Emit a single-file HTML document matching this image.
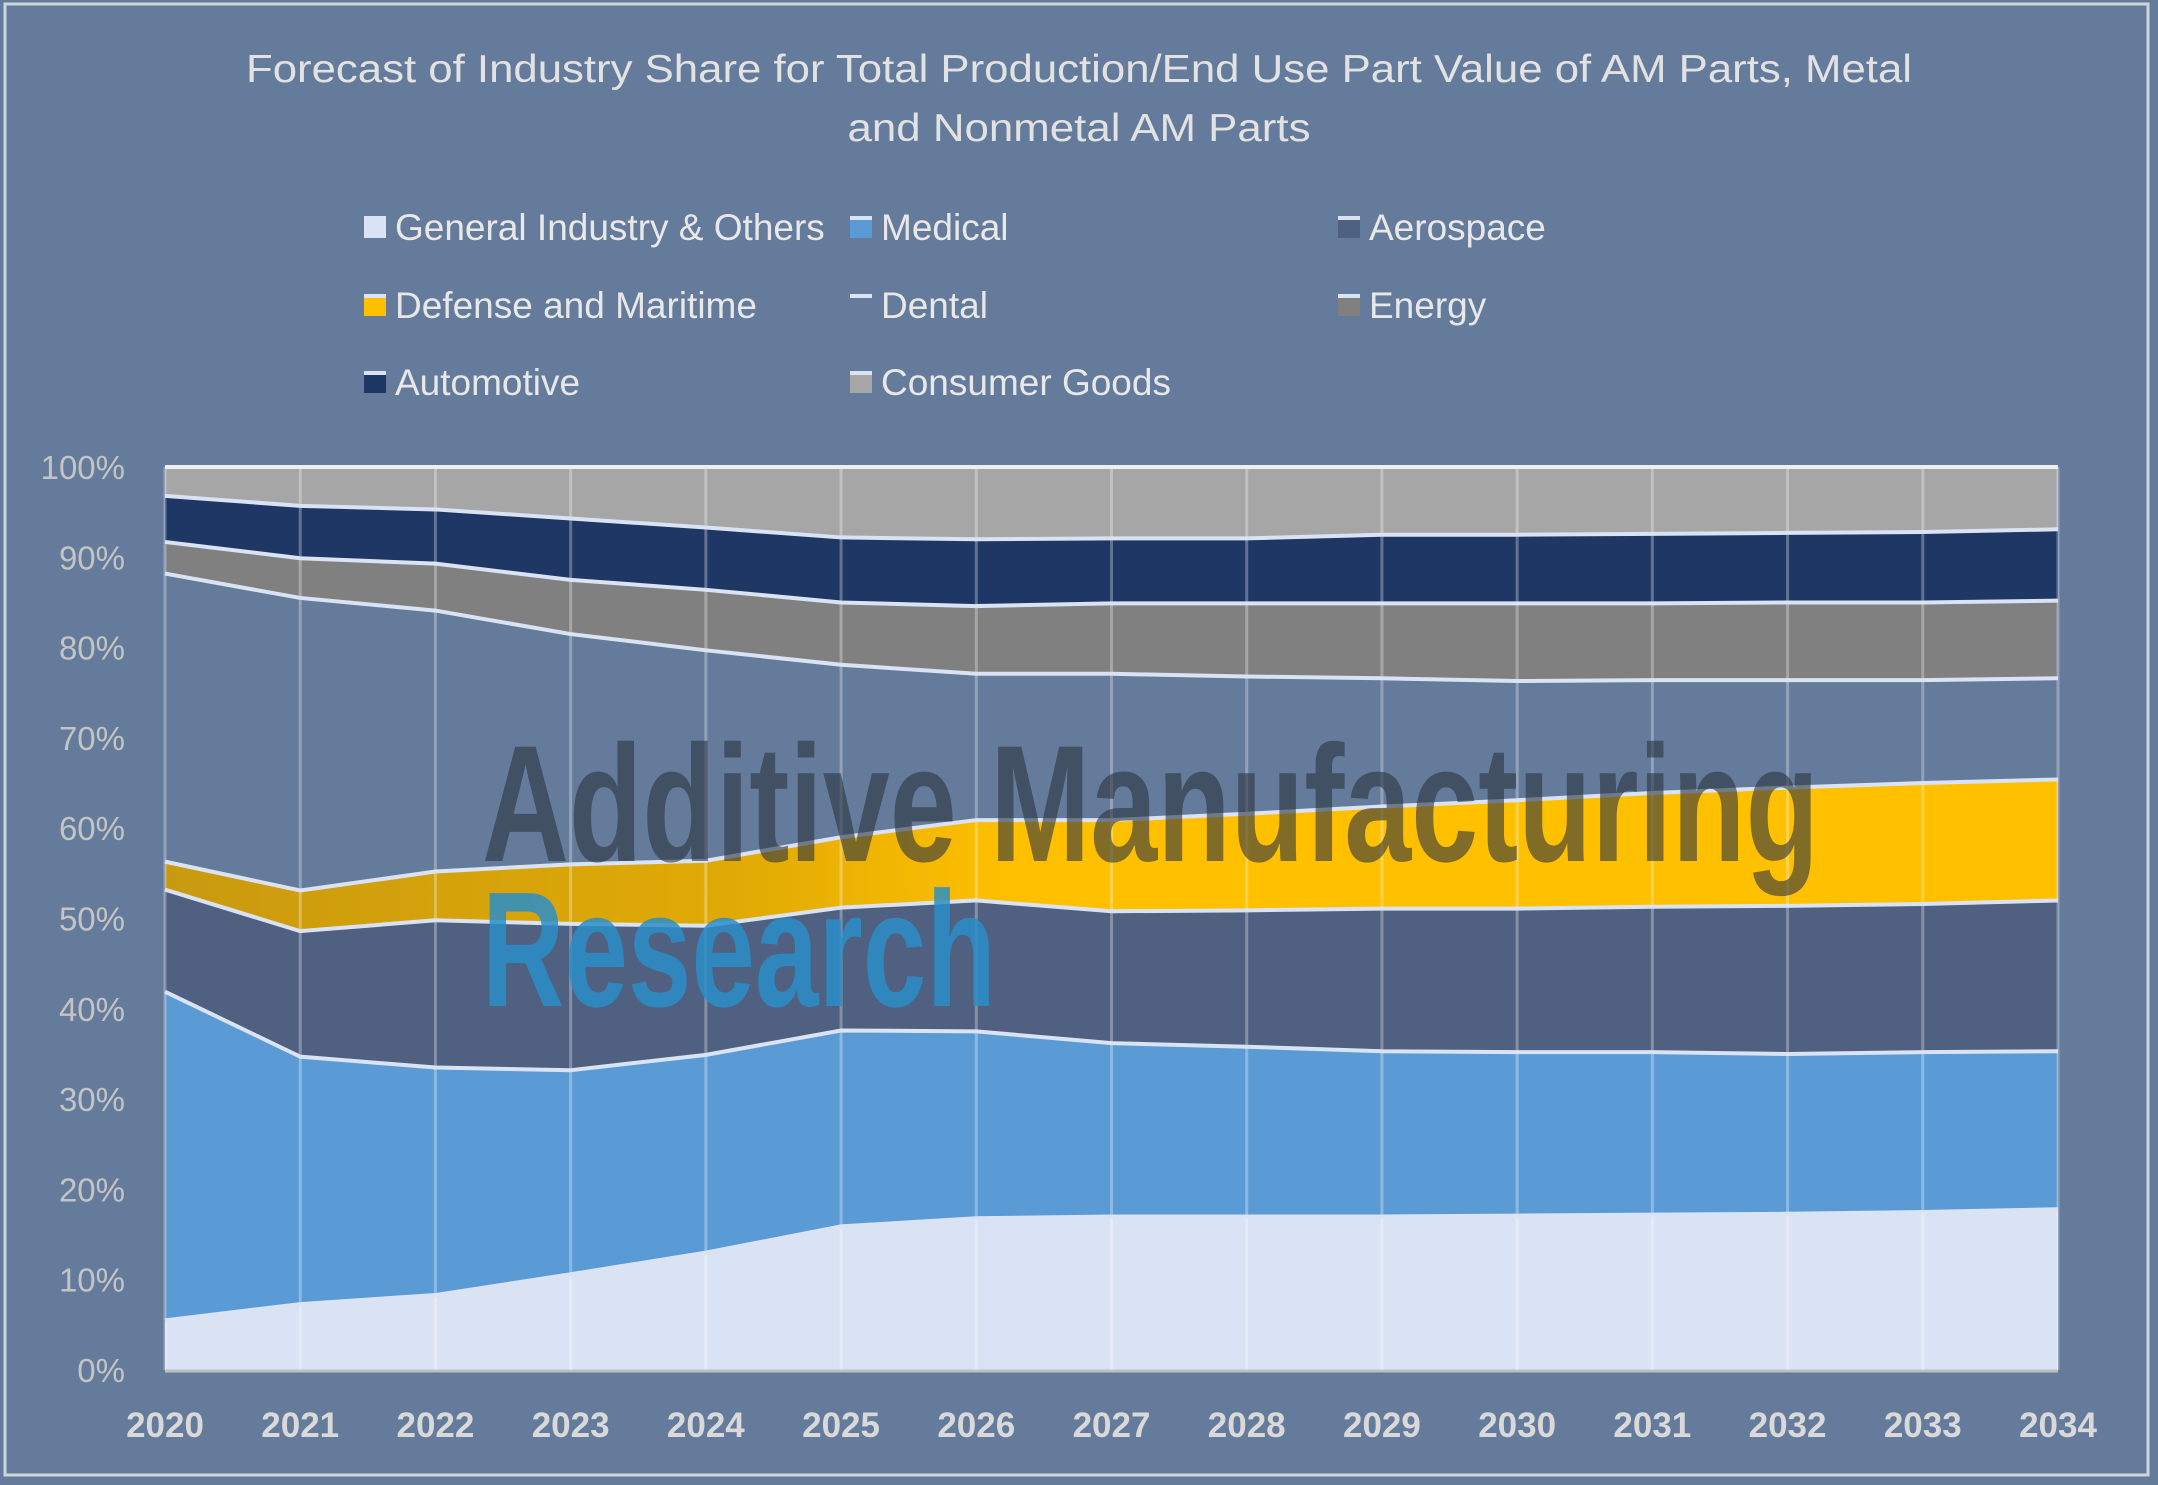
<!DOCTYPE html>
<html><head><meta charset="utf-8"><style>
html,body{margin:0;padding:0;background:#647b9b;}
svg{display:block;}
</style></head><body>
<svg id="s" width="2158" height="1485" viewBox="0 0 2158 1485" xmlns="http://www.w3.org/2000/svg" font-family="Liberation Sans, sans-serif">
<defs>
<linearGradient id="gold" x1="165" y1="0" x2="2058" y2="0" gradientUnits="userSpaceOnUse">
<stop offset="0" stop-color="#c99a10"/><stop offset="0.3" stop-color="#e0aa05"/><stop offset="0.45" stop-color="#ffc000"/><stop offset="1" stop-color="#ffc000"/>
</linearGradient>
</defs>
<rect x="0" y="0" width="2158" height="1485" fill="#647b9b"/>
<rect x="5" y="4" width="2143" height="1471" fill="none" stroke="#d0d5dc" stroke-width="3"/>
<g fill="#e2e2e2" font-size="39" text-anchor="middle">
<text x="1079" y="82" textLength="1666" lengthAdjust="spacingAndGlyphs">Forecast of Industry Share for Total Production/End Use Part Value of AM Parts, Metal</text>
<text x="1079" y="141" textLength="463" lengthAdjust="spacingAndGlyphs">and Nonmetal AM Parts</text>
</g>
<g id="plot"></g>
<g id="leg" font-size="37" fill="#e8e8e8"></g>
</svg>
<script>
const L=165,R=2058,T=467,B=1370;
const X=i=>L+(R-L)*i/14, Y=p=>B-(B-T)*p/100;
const tops=[
[5.5,7.3,8.3,10.6,13,15.9,16.8,17,17,17,17.1,17.2,17.3,17.5,17.8],
[41.9,34.7,33.5,33.2,34.9,37.6,37.5,36.2,35.8,35.3,35.2,35.2,35,35.2,35.3],
[53.2,48.6,49.8,49.4,49.2,51.2,52,50.8,50.9,51.1,51.1,51.3,51.4,51.6,52],
[56.3,53.1,55.2,56,56.4,59,60.9,60.9,61.6,62.4,63.1,63.9,64.5,65,65.4],
[88.2,85.5,84.1,81.5,79.7,78.1,77.1,77.1,76.8,76.6,76.3,76.4,76.4,76.4,76.6],
[91.7,89.9,89.3,87.5,86.4,85,84.6,84.9,84.9,84.9,84.9,84.9,85,85,85.2],
[96.8,95.7,95.3,94.3,93.3,92.2,92,92.1,92.1,92.5,92.5,92.6,92.7,92.8,93.1],
Array(15).fill(100)];
const cols=['#dae3f3','#5b9bd5','#4f6080','url(#gold)','#647b9b','#808080','#1f3764','#a6a6a6'];
let h='';
for(let k=0;k<8;k++){
 const lo=k?tops[k-1]:Array(15).fill(0), hi=tops[k];
 let d='M'+hi.map((v,i)=>X(i)+','+Y(v)).join(' L');
 for(let i=14;i>=0;i--) d+=' L'+X(i)+','+Y(lo[i]);
 h+=`<path d="${d} Z" fill="${cols[k]}"/>`;
}
for(let i=0;i<15;i++) h+=`<line x1="${X(i)}" y1="${T}" x2="${X(i)}" y2="${B}" stroke="#ffffff" stroke-opacity="0.3" stroke-width="3"/>`;
for(let k=0;k<7;k++){
 h+=`<polyline points="${tops[k].map((v,i)=>X(i)+','+Y(v)).join(' ')}" fill="none" stroke="#dae3f3" stroke-width="4"/>`;
}
h+=`<line x1="${L}" y1="${T}" x2="${R}" y2="${T}" stroke="#eeeeee" stroke-width="4"/>`;
h+=`<line x1="${L}" y1="${B+1}" x2="${R}" y2="${B+1}" stroke="#bfbfbf" stroke-width="3"/>`;
h+=`<text x="482" y="861" font-family="Liberation Sans Narrow, Liberation Sans, sans-serif" font-weight="bold" font-size="166" textLength="1337" lengthAdjust="spacingAndGlyphs" fill="#2b3440" fill-opacity="0.6">Additive Manufacturing</text>`;
h+=`<text x="482" y="1006" font-family="Liberation Sans Narrow, Liberation Sans, sans-serif" font-weight="bold" font-size="164" textLength="514" lengthAdjust="spacingAndGlyphs" fill="#2a8ec8" fill-opacity="0.85">Research</text>`;
for(let p=0;p<=100;p+=10) h+=`<text x="125" y="${Y(p)+12}" text-anchor="end" font-size="33" fill="#c4c4c4">${p}%</text>`;
for(let i=0;i<15;i++) h+=`<text x="${X(i)}" y="1437" text-anchor="middle" font-size="35" font-weight="bold" fill="#d9d9d9">${2020+i}</text>`;
document.getElementById('plot').innerHTML=h;
const leg=[['General Industry & Others','#dae3f3',364,227],['Medical','#5b9bd5',850,227],['Aerospace','#4f6080',1338,227],
['Defense and Maritime','#ffc000',364,305],['Dental','#647b9b',850,305],['Energy','#808080',1338,305],
['Automotive','#1f3764',364,382],['Consumer Goods','#a6a6a6',850,382]];
let g='';
for(const [t,c,x,y] of leg){
 g+=`<rect x="${x}" y="${y-11}" width="22" height="22" fill="${c}"/><rect x="${x}" y="${y-11}" width="22" height="4" fill="#dae3f3"/>`;
 g+=`<text x="${x+31}" y="${y+13}">${t.replace('&','&amp;')}</text>`;
}
document.getElementById('leg').innerHTML=g;
</script>
</body></html>
